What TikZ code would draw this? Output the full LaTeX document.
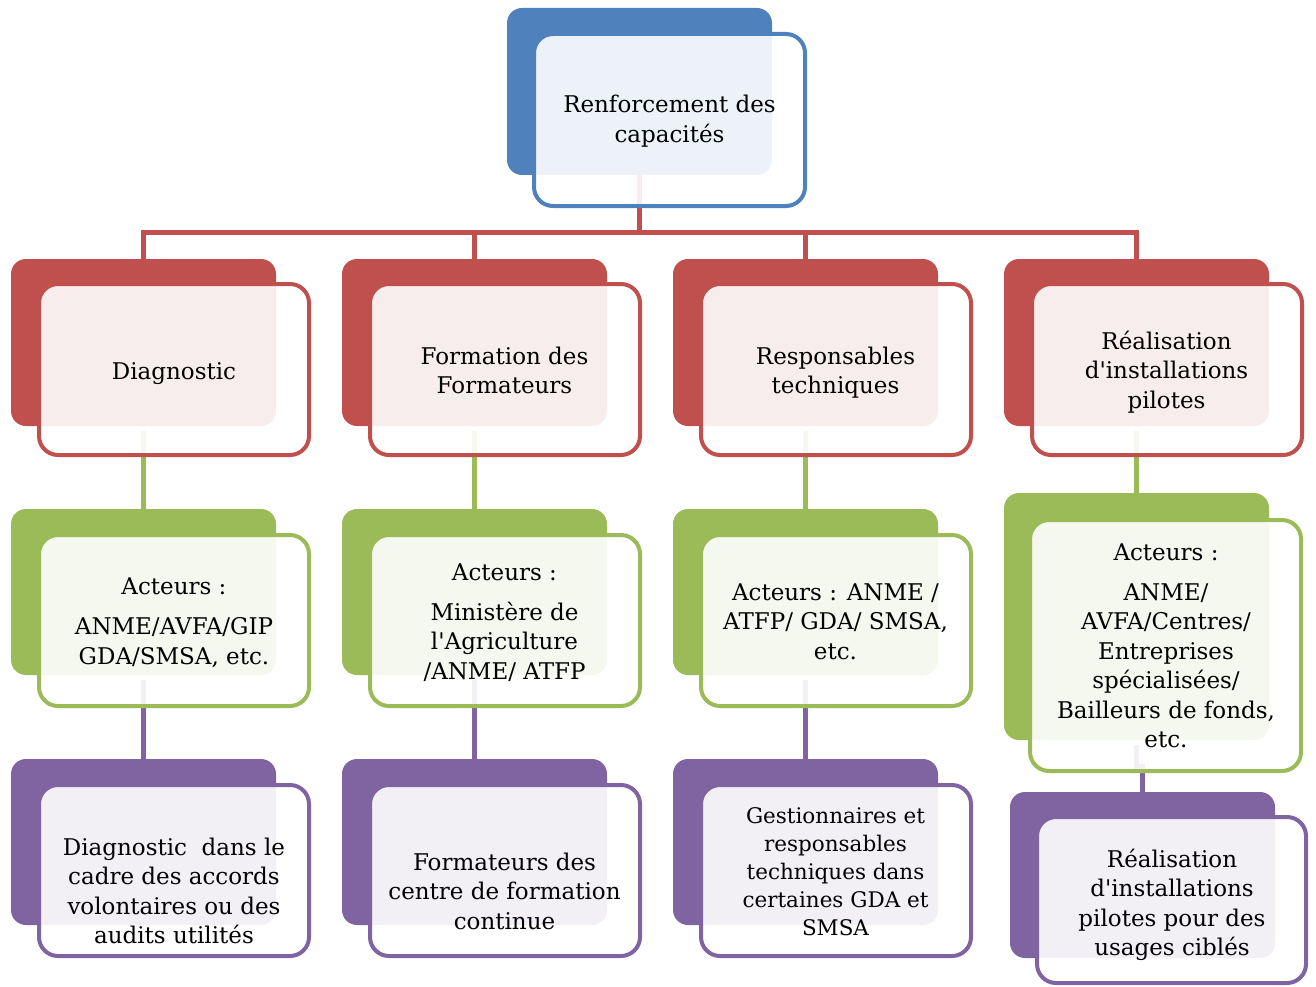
\documentclass[tikz,border=0pt]{standalone}
\usepackage{fontspec}
\setmainfont{DejaVu Serif}
\definecolor{cBlue}{RGB}{79,129,189}
\definecolor{cRed}{RGB}{192,80,77}
\definecolor{cGreen}{RGB}{155,187,89}
\definecolor{cPurple}{RGB}{128,100,162}
\newcommand\apos{\textquotesingle}
\tikzset{
  backbox/.style={rectangle, rounded corners=15pt, fill=#1, draw=none,
    anchor=north west, inner sep=0pt, outer sep=0pt,
    minimum width=265pt, minimum height=167pt},
  frontbox/.style={rectangle, rounded corners=19pt, draw=#1, line width=4pt,
    fill=white, fill opacity=0.9, anchor=north west, inner sep=0pt, outer sep=0pt,
    minimum width=270pt, minimum height=171pt},
  % anchored on the baseline of the last line
  boxtext/.style={anchor=base, align=center, inner sep=0pt, text=black,
    font=\fontsize{23}{29.5}\selectfont},
  smalltext/.style={boxtext, font=\fontsize{21.5}{28}\selectfont},
  linkline/.style={draw=#1, line width=5pt},
}
\begin{document}
\begin{tikzpicture}[x=1pt, y=-1pt]
\useasboundingbox (0,0) rectangle (1316,987);

% ---- solid back plates ----
\node[backbox=cBlue] (capB) at (507,8) {};
\node[backbox=cRed] (diagB) at (11,259) {};
\node[backbox=cRed] (formB) at (342,259) {};
\node[backbox=cRed] (respB) at (673,259) {};
\node[backbox=cRed] (realB) at (1004,259) {};
\node[backbox=cGreen, minimum height=166pt] (act1B) at (11,509) {};
\node[backbox=cGreen, minimum height=166pt] (act2B) at (342,509) {};
\node[backbox=cGreen, minimum height=166pt] (act3B) at (673,509) {};
\node[backbox=cGreen, minimum height=247pt] (act4B) at (1004,493) {};
\node[backbox=cPurple, minimum height=166pt] (res1B) at (11,759) {};
\node[backbox=cPurple, minimum height=166pt] (res2B) at (342,759) {};
\node[backbox=cPurple, minimum height=166pt] (res3B) at (673,759) {};
\node[backbox=cPurple, minimum height=166pt] (res4B) at (1010,792) {};

% ---- connectors ----
\coordinate (bus) at (640,232);
\draw[linkline=cRed] (capB.south) -- (capB.south |- bus);
\draw[linkline=cRed] (diagB.north) |- (bus) -| (realB.north);
\draw[linkline=cRed] (formB.north) -- (formB.north |- bus);
\draw[linkline=cRed] (respB.north) -- (respB.north |- bus);

\draw[linkline=cGreen] ([yshift=-5pt]diagB.south) -- (act1B.north);
\draw[linkline=cGreen] ([yshift=-5pt]formB.south) -- (act2B.north);
\draw[linkline=cGreen] ([yshift=-5pt]respB.south) -- (act3B.north);
\draw[linkline=cGreen] ([yshift=-5pt]realB.south) -- (act4B.north);

\draw[linkline=cPurple] ([yshift=-5pt]act1B.south) -- (res1B.north);
\draw[linkline=cPurple] ([yshift=-5pt]act2B.south) -- (res2B.north);
\draw[linkline=cPurple] ([yshift=-5pt]act3B.south) -- (res3B.north);
\draw[linkline=cPurple] ([yshift=-5pt]act4B.south) -- ++(0,21) -| (res4B.north);

% ---- outlined front cards ----
\node[frontbox=cBlue, minimum width=271pt, minimum height=172pt] (capF) at (534,34) {};
\node[frontbox=cRed] (diagF) at (39,284) {};
\node[frontbox=cRed] (formF) at (370,284) {};
\node[frontbox=cRed] (respF) at (701,284) {};
\node[frontbox=cRed] (realF) at (1032,284) {};
\node[frontbox=cGreen] (act1F) at (39,535) {};
\node[frontbox=cGreen] (act2F) at (370,535) {};
\node[frontbox=cGreen] (act3F) at (701,535) {};
\node[frontbox=cGreen, minimum width=271pt, minimum height=251pt] (act4F) at (1030,520) {};
\node[frontbox=cPurple] (res1F) at (39,785) {};
\node[frontbox=cPurple] (res2F) at (370,785) {};
\node[frontbox=cPurple] (res3F) at (701,785) {};
\node[frontbox=cPurple, minimum width=269pt, minimum height=166pt] (res4F) at (1037,817) {};

% ---- texts ----
\node[boxtext] (capT) at (669.5,142.5) {Renforcement des\\capacités};
\node[boxtext] (diagT) at (174,379) {Diagnostic};
\node[boxtext] (formT) at (504.5,393.5) {Formation des\\Formateurs};
\node[boxtext] (respT) at (835.5,393.5) {Responsables\\techniques};
\node[boxtext] (realT) at (1166.5,408) {Réalisation\\d\apos installations\\pilotes};

\node[boxtext] (act1T) at (174,664) {Acteurs :\\[10.5pt]ANME/AVFA/GIP\\GDA/SMSA, etc.};
\node[boxtext] (act2T) at (504.5,679) {Acteurs :\\[10.5pt]Ministère de\\l\apos Agriculture\\/ANME/ ATFP};
\node[boxtext] (act3T) at (835.5,659) {Acteurs : ANME /\\ATFP/ GDA/ SMSA,\\etc.};
\node[boxtext] (act4T) at (1166,747.5) {Acteurs :\\[10.5pt]ANME/\\AVFA/Centres/\\Entreprises\\spécialisées/\\Bailleurs de fonds,\\etc.};

\node[boxtext] (res1T) at (174,943.5) {Diagnostic\ \ dans le\\cadre des accords\\volontaires ou des\\audits utilités};
\node[boxtext] (res2T) at (504.5,929) {Formateurs des\\centre de formation\\continue};
\node[smalltext] (res3T) at (835.5,935) {Gestionnaires et\\responsables\\techniques dans\\certaines GDA et\\SMSA};
\node[boxtext] (res4T) at (1172,955.5) {Réalisation\\d\apos installations\\pilotes pour des\\usages ciblés};
\end{tikzpicture}
\end{document}
